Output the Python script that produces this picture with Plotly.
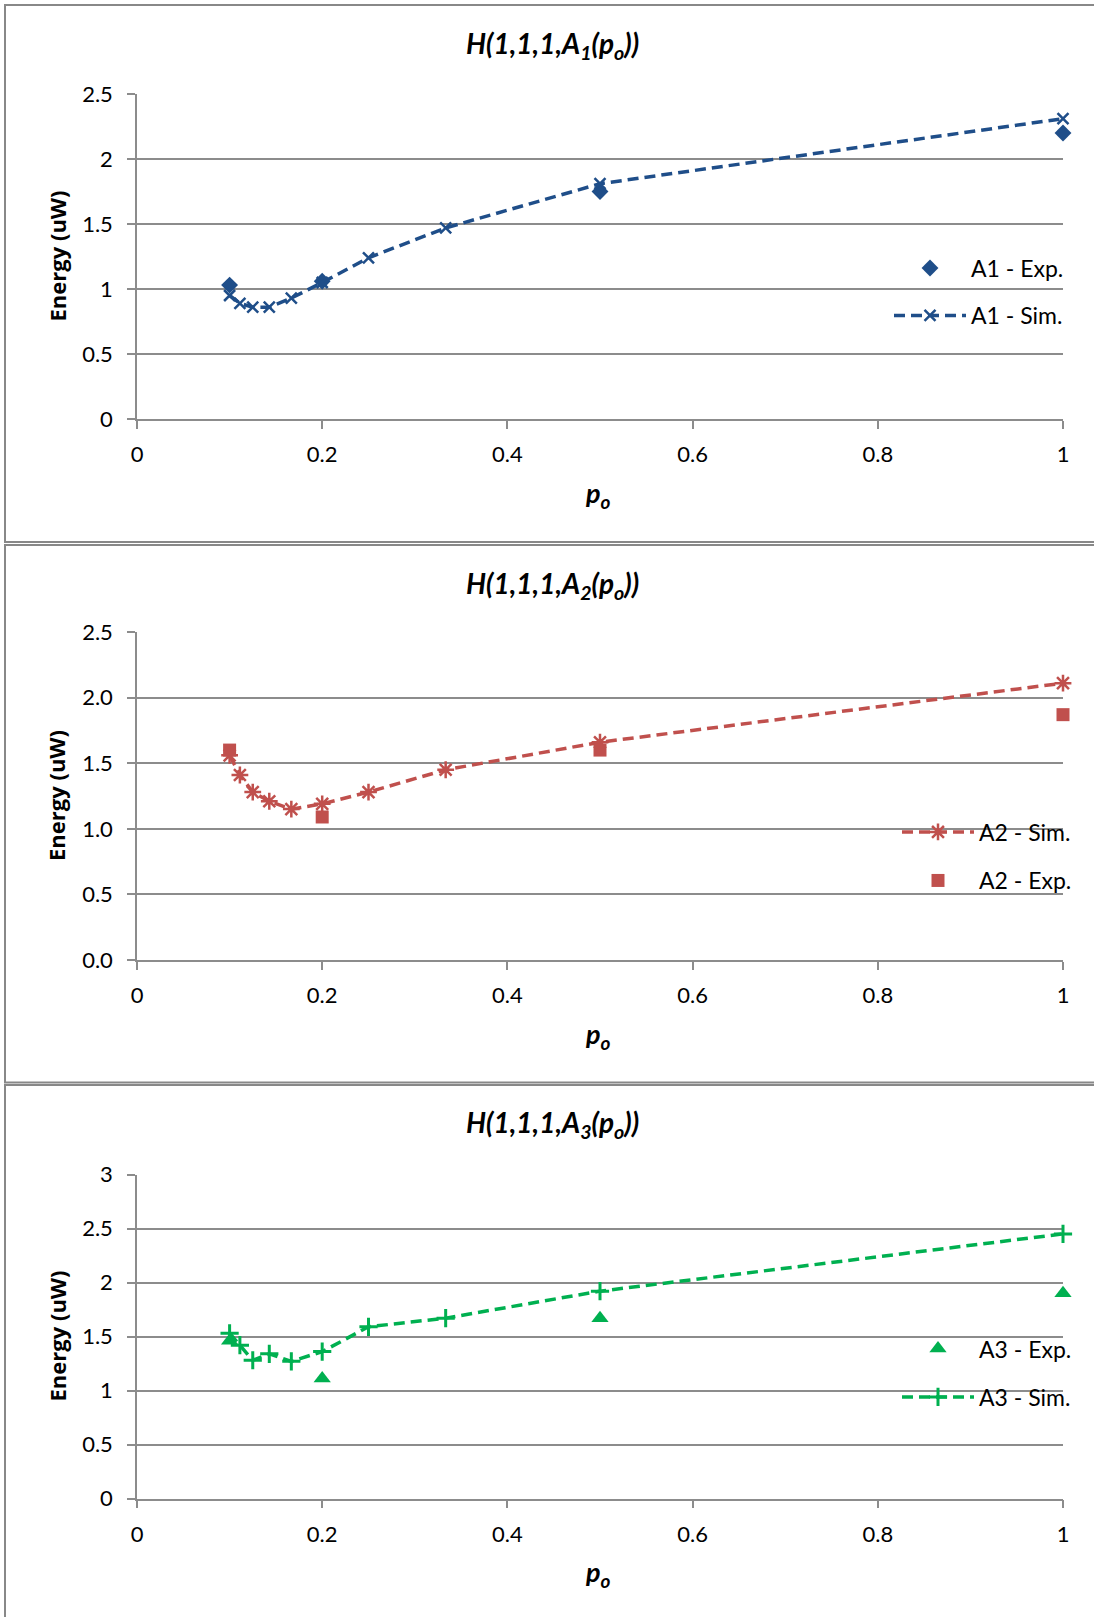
import plotly.graph_objects as go

# ---- data -------------------------------------------------------------
p_sim = [0.1, 1/9, 0.125, 1/7, 1/6, 0.2, 0.25, 1/3, 0.5, 1.0]
p_exp = [0.1, 0.2, 0.5, 1.0]

a1_sim = [0.95, 0.89, 0.86, 0.86, 0.93, 1.05, 1.24, 1.47, 1.81, 2.31]
a1_exp = [1.03, 1.06, 1.75, 2.20]

a2_sim = [1.56, 1.41, 1.28, 1.21, 1.15, 1.19, 1.28, 1.45, 1.66, 2.11]
a2_exp = [1.60, 1.09, 1.60, 1.87]

a3_sim = [1.53, 1.42, 1.28, 1.34, 1.27, 1.36, 1.59, 1.67, 1.92, 2.45]
a3_exp = [1.46, 1.11, 1.67, 1.90]

x_ticks = [0, 0.2, 0.4, 0.6, 0.8, 1]
x_tick_text = ["0", "0.2", "0.4", "0.6", "0.8", "1"]

titles = ["H(1,1,1,A<sub>1</sub>(p<sub>o</sub>))",
          "H(1,1,1,A<sub>2</sub>(p<sub>o</sub>))",
          "H(1,1,1,A<sub>3</sub>(p<sub>o</sub>))"]

# ---- geometry (pixels) ------------------------------------------------
W, H = 1094, 1617
FONT = "Lato"
BLUE, RED, GREEN = "#1F4E89", "#C0504D", "#00B050"
GRID = "#8C8C8C"


def px(x):
    return x / W


def py(y):
    return 1 - y / H


# plot areas: (top px, bottom px)
plot_y = [(94, 419), (632, 960), (1174.5, 1498.5)]
plot_x = (137, 1063)
# panel frames: (top px, bottom px)
frames = [(5, 542), (545, 1082.5), (1085, 1640)]
title_y = [45, 584.6, 1124]
xtitle_y = [494, 1035, 1573]

fig = go.Figure()

dash = "11px,6px"


def sim_trace(y, color, symbol, size, lw, name, xa, ya, legend):
    return go.Scatter(
        x=p_sim, y=y, mode="lines+markers", name=name,
        xaxis=xa, yaxis=ya, legend=legend, cliponaxis=False,
        line=dict(color=color, width=3.5, dash=dash),
        marker=dict(symbol=symbol, size=size, color=color,
                    line=dict(color=color, width=lw)),
    )


def exp_trace(y, color, symbol, size, name, xa, ya, legend):
    return go.Scatter(
        x=p_exp, y=y, mode="markers", name=name,
        xaxis=xa, yaxis=ya, legend=legend, cliponaxis=False,
        marker=dict(symbol=symbol, size=size, color=color,
                    line=dict(width=0)),
    )


fig.add_trace(exp_trace(a1_exp, BLUE, "diamond", 13, "A1 - Exp.", "x", "y", "legend"))
fig.add_trace(sim_trace(a1_sim, BLUE, "x-thin-open", 11, 2.5, "A1 - Sim.", "x", "y", "legend2"))
fig.add_trace(sim_trace(a2_sim, RED, "asterisk-open", 14, 2.5, "A2 - Sim.", "x2", "y2", "legend3"))
fig.add_trace(exp_trace(a2_exp, RED, "square", 13, "A2 - Exp.", "x2", "y2", "legend4"))
fig.add_trace(exp_trace(a3_exp, GREEN, "triangle-up", 15, "A3 - Exp.", "x3", "y3", "legend5"))
fig.add_trace(sim_trace(a3_sim, GREEN, "cross-thin-open", 13, 3, "A3 - Sim.", "x3", "y3", "legend6"))

axis_common = dict(
    showline=True, linecolor=GRID, linewidth=1.5,
    ticks="outside", ticklen=8, tickcolor=GRID, tickwidth=1.5,
    tickfont=dict(family=FONT, size=22, color="#000000"),
    zeroline=False, automargin=False,
)

y_ranges = [[0, 2.5], [0, 2.5], [0, 3]]
y_formats = ["", ".1f", ""]

layout = {}
for i in range(3):
    sfx = "" if i == 0 else str(i + 1)
    top, bot = plot_y[i]
    layout["xaxis" + sfx] = dict(
        axis_common, domain=[px(plot_x[0]), px(plot_x[1])],
        anchor="y" + sfx, range=[0, 1], tickvals=x_ticks, ticktext=x_tick_text,
        showgrid=False, ticklabelstandoff=7,
    )
    layout["yaxis" + sfx] = dict(
        axis_common, domain=[py(bot), py(top)], anchor="x" + sfx,
        range=y_ranges[i], dtick=0.5, tickformat=y_formats[i],
        showgrid=True, gridcolor=GRID, gridwidth=1.5, ticklabelstandoff=10,
    )

fig.update_layout(**layout)

# legends, one entry each
legend_pos = [(889, 268), (889, 315.5), (897, 832), (897, 880.5), (897, 1348.6), (897, 1397)]
for j, (lx, ly) in enumerate(legend_pos):
    key = "legend" if j == 0 else "legend" + str(j + 1)
    fig.layout[key] = dict(
        x=px(lx), y=py(ly), xanchor="left", yanchor="middle",
        bgcolor="rgba(0,0,0,0)", borderwidth=0, itemwidth=72,
        font=dict(family=FONT, size=23, color="#000000"),
        tracegroupgap=0,
    )

annotations = []
shapes = []
for i in range(3):
    annotations.append(dict(
        text="<b><i>" + titles[i] + "</i></b>", x=px(552), y=py(title_y[i]),
        xref="paper", yref="paper", showarrow=False,
        xanchor="center", yanchor="middle",
        font=dict(family=FONT, size=28, color="#000000"),
    ))
    annotations.append(dict(
        text="<b><i>p<sub>o</sub></i></b>", x=px(598), y=py(xtitle_y[i]),
        xref="paper", yref="paper", showarrow=False,
        xanchor="center", yanchor="middle",
        font=dict(family=FONT, size=27, color="#000000"),
    ))
    top, bot = plot_y[i]
    annotations.append(dict(
        text="<b>Energy (uW)</b>", x=px(56), y=py((top + bot) / 2),
        xref="paper", yref="paper", showarrow=False, textangle=-90,
        xanchor="center", yanchor="middle",
        font=dict(family="Open Sans", size=22, color="#000000"),
    ))
    ft, fb = frames[i]
    shapes.append(dict(
        type="rect", xref="paper", yref="paper",
        x0=px(5), x1=px(1120), y0=py(fb), y1=py(ft),
        line=dict(color="#888888", width=2), fillcolor="rgba(0,0,0,0)",
        layer="below",
    ))

fig.update_layout(
    width=W, height=H,
    margin=dict(l=0, r=0, t=0, b=0, pad=0, autoexpand=False),
    paper_bgcolor="white", plot_bgcolor="white",
    annotations=annotations, shapes=shapes, showlegend=True,
)

# the page body gets no default margin so the figure fills the window exactly
fig.write_html("out.html", post_script="document.body.style.margin='0';")
